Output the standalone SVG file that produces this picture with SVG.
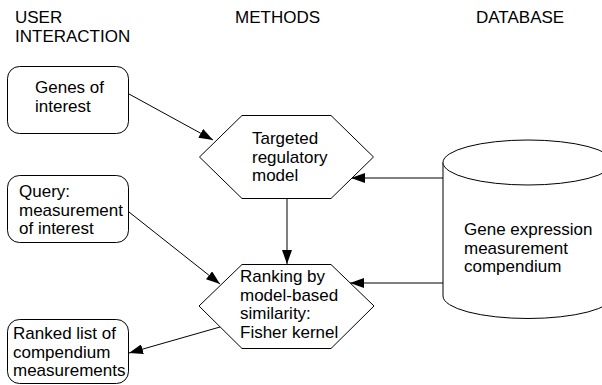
<svg xmlns="http://www.w3.org/2000/svg" width="602" height="385" viewBox="0 0 602 385">
<style>
text{font-family:"Liberation Sans",Arial,sans-serif;font-size:17px;fill:#000}
.shape{fill:#fff;stroke:#000;stroke-width:1}
.conn{fill:none;stroke:#000;stroke-width:1;marker-end:url(#arr)}
</style>
<defs>
<marker id="arr" markerUnits="userSpaceOnUse" markerWidth="14" markerHeight="10" refX="14" refY="5" orient="auto">
<path d="M0,0 L14,5 L0,10 Z" fill="#000"/>
</marker>
</defs>
<g id="headers">
<text x="15" y="23">USER</text>
<text x="15" y="41.5">INTERACTION</text>
<text x="235" y="23">METHODS</text>
<text x="476" y="23">DATABASE</text>
</g>
<g id="connectors">
<path class="conn" d="M129,94 L213,140"/>
<path class="conn" d="M443,178 L351,178"/>
<path class="conn" d="M287,198 L287,264"/>
<path class="conn" d="M129,212 L220,284"/>
<path class="conn" d="M443,283 L350,283"/>
<path class="conn" d="M220,327 L129,353"/>
</g>
<g id="genes">
<rect class="shape" x="7.5" y="66.5" width="121" height="67" rx="12"/>
<text x="35" y="93">Genes of</text>
<text x="35" y="111.5">interest</text>
</g>
<g id="query">
<rect class="shape" x="7.5" y="175.5" width="121" height="67" rx="12"/>
<text x="19" y="197">Query:</text>
<text x="19" y="215.5">measurement</text>
<text x="19" y="234">of interest</text>
</g>
<g id="ranked">
<rect class="shape" x="7.5" y="319.5" width="121" height="64" rx="12"/>
<text x="13" y="339">Ranked list of</text>
<text x="13" y="357.5">compendium</text>
<text x="13" y="376">measurements</text>
</g>
<g id="targeted">
<polygon class="shape" points="242,115.5 331,115.5 373.5,157 331,198.5 242,198.5 199.5,157"/>
<text x="252" y="144">Targeted</text>
<text x="252" y="162.5">regulatory</text>
<text x="252" y="181">model</text>
</g>
<g id="ranking">
<polygon class="shape" points="242,264.5 331,264.5 374,306 331,348.5 242,348.5 199,306"/>
<text x="240" y="282">Ranking by</text>
<text x="240" y="300.5">model-based</text>
<text x="240" y="319">similarity:</text>
<text x="240" y="337.5">Fisher kernel</text>
</g>
<g id="database">
<path class="shape" d="M443,162.5 L443,296 A85,22.5 0 0 0 613,296 L613,162.5"/>
<ellipse class="shape" cx="528" cy="162.5" rx="85" ry="22.5"/>
<text x="464" y="235">Gene expression</text>
<text x="464" y="253.5">measurement</text>
<text x="464" y="272">compendium</text>
</g>
</svg>
